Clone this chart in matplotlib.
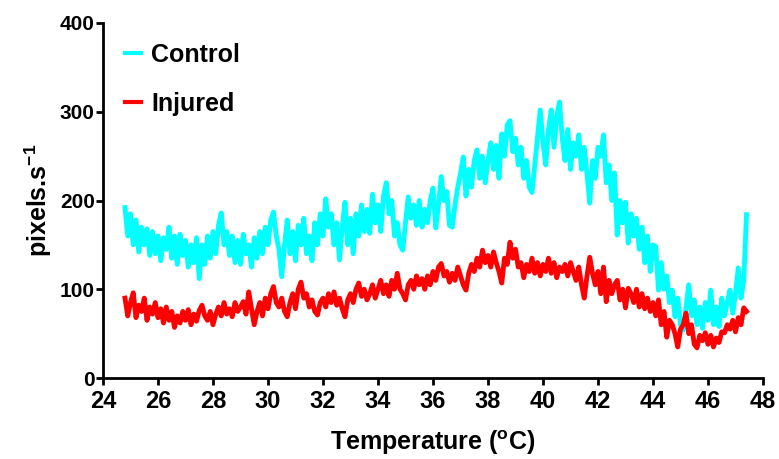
import matplotlib
matplotlib.use("Agg")
import matplotlib.pyplot as plt
import numpy as np

# temperature axis (0.1 degC steps, 24.8 -> 47.4)
temp_start = 24.8
temp_step = 0.1

# Control (pixels/s)
control = [
    192, 160, 185, 150, 178, 142, 170, 150, 168, 138,
    165, 140, 160, 132, 158, 145, 170, 135, 160, 128,
    162, 138, 155, 125, 150, 130, 158, 112, 150, 128,
    160, 135, 165, 140, 172, 186, 150, 165, 138, 160,
    130, 155, 128, 162, 140, 150, 125, 158, 135, 165,
    140, 170, 150, 178, 187, 160, 145, 114, 150, 178,
    140, 165, 132, 172, 150, 180, 140, 160, 132, 175,
    150, 185, 160, 202, 170, 185, 150, 175, 133, 170,
    198, 150, 180, 140, 185, 160, 195, 165, 190, 163,
    207, 175, 195, 165, 205, 220, 185, 200, 160, 175,
    150, 144, 175, 204, 180, 195, 172, 200, 170, 190,
    175, 200, 214, 169, 195, 227, 200, 210, 172, 170,
    195, 215, 230, 249, 205, 235, 215, 245, 257, 225,
    250, 220, 245, 265, 235, 262, 225, 275, 250, 285,
    290, 255, 270, 240, 260, 225, 245, 215, 209, 240,
    270, 302, 265, 240, 280, 302, 260, 295, 311, 270,
    245, 280, 235, 265, 250, 274, 235, 260, 230, 197,
    245, 225, 260, 250, 274, 220, 240, 200, 231, 161,
    200, 175, 198, 152, 185, 160, 180, 145, 170, 130,
    160, 120, 150, 148, 99, 130, 100, 115, 85, 99,
    69, 90, 60, 54, 80, 105, 70, 88, 60, 80,
    56, 85, 65, 99, 60, 80, 58, 90, 70, 85,
    99, 73, 95, 124, 90, 110, 184,
]

# Injured (pixels/s)
injured = [
    90, 70, 85, 96, 68, 82, 75, 90, 65, 80,
    72, 85, 68, 78, 62, 80, 65, 75, 57, 70,
    62, 75, 65, 77, 60, 72, 64, 76, 82, 70,
    65, 75, 60, 72, 80, 70, 85, 72, 78, 69,
    85, 75, 80, 86, 72, 97, 78, 60, 75, 85,
    70, 90, 78, 95, 103, 85, 80, 90, 75, 69,
    85, 95, 78, 100, 108, 90, 95, 80, 88, 75,
    71, 85, 90, 80, 95, 85, 97, 82, 90, 78,
    69, 88, 95, 85, 100, 107, 92, 100, 88, 95,
    105, 90, 100, 110, 95, 105, 92, 110, 100, 118,
    100, 95, 88, 105, 110, 100, 115, 105, 112, 100,
    115, 105, 120, 110, 125, 129, 115, 120, 108, 118,
    110, 125, 115, 105, 99, 118, 128, 120, 135, 125,
    144, 130, 138, 125, 142, 130, 120, 107, 135, 128,
    153, 135, 145, 125, 130, 113, 128, 120, 135, 118,
    130, 115, 128, 120, 135, 118, 130, 113, 125, 120,
    128, 115, 130, 120, 110, 125, 105, 90, 115, 136,
    118, 105, 120, 95, 125, 86, 110, 95, 105, 110,
    88, 100, 79, 101, 95, 85, 100, 80, 95, 78,
    90, 75, 85, 70, 88, 60, 75, 46, 65, 60,
    50, 35, 55, 60, 73, 50, 60, 38, 34, 48,
    42, 51, 38, 48, 35, 45, 40, 52, 51, 60,
    55, 65, 52, 68, 60, 79, 75,
]

x_ticks = [24, 26, 28, 30, 32, 34, 36, 38, 40, 42, 44, 46, 48]
y_ticks = [0, 100, 200, 300, 400]

temps = temp_start + temp_step * np.arange(len(control))

plt.rcParams['font.family'] = ['Liberation Sans', 'DejaVu Sans']
plt.rcParams['font.weight'] = 'bold'
plt.rcParams['mathtext.fontset'] = 'custom'
plt.rcParams['mathtext.rm'] = 'Liberation Sans:bold'
plt.rcParams['mathtext.it'] = 'Liberation Sans:bold'
plt.rcParams['mathtext.bf'] = 'Liberation Sans:bold'
plt.rcParams['mathtext.default'] = 'rm'

fig = plt.figure(figsize=(7.79, 4.59), dpi=100)
ax = fig.add_axes([103 / 779, 1 - 378 / 459, 660 / 779, 355 / 459])

ax.plot(temps, control, color='#00FFFF', lw=3.5, label='Control')
ax.plot(temps, injured, color='#FF0000', lw=3.5, label='Injured')

ax.set_xlim(24, 48)
ax.set_ylim(0, 400)
ax.set_xticks(x_ticks)
ax.set_yticks(y_ticks)

for s in ['top', 'right']:
    ax.spines[s].set_visible(False)
for s in ['left', 'bottom']:
    ax.spines[s].set_linewidth(2)
ax.tick_params(width=2, length=5, direction='out')
ax.tick_params(axis='y', labelsize=15, pad=1)
ax.tick_params(axis='x', labelsize=17, pad=4)
for lab in ax.get_xticklabels() + ax.get_yticklabels():
    lab.set_fontweight('bold')

ax.set_xlabel('Temperature ($^{o}$C)', fontsize=18, fontweight='bold', labelpad=11)
ax.set_ylabel('pixels.s$^{-1}$', fontsize=18, fontweight='bold', labelpad=4)

leg = ax.legend(loc='upper left', bbox_to_anchor=(0.014, 0.98), frameon=False,
                prop={'size': 18, 'weight': 'bold'}, handlelength=0.65,
                handletextpad=0.4, labelspacing=1.0, borderpad=0)
for line in leg.get_lines():
    line.set_linewidth(3)

plt.savefig('out.png', dpi=100)
